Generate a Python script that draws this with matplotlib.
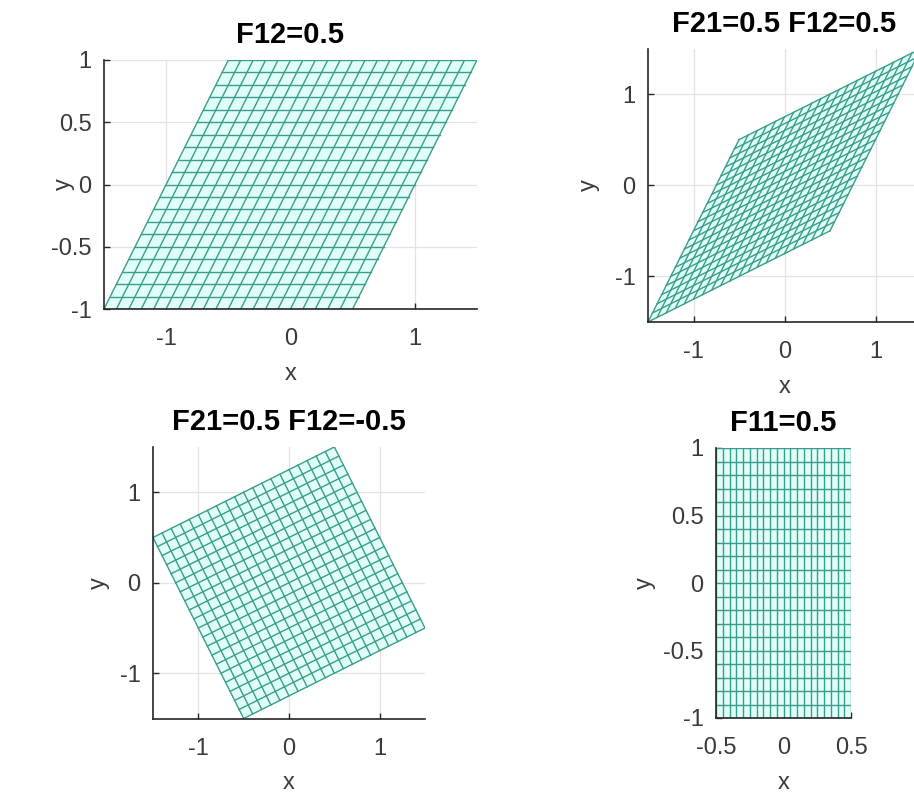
import numpy as np
import matplotlib
matplotlib.use("Agg")
import matplotlib.pyplot as plt

plt.rcParams["font.family"] = ["Liberation Sans", "DejaVu Sans"]

# deformation gradients F = [[F11, F12], [F21, F22]] for each panel
titles = ["F12=0.5", "F21=0.5 F12=0.5", "F21=0.5 F12=-0.5", "F11=0.5"]
F11 = [1.0, 1.0, 1.0, 0.5]
F12 = [0.5, 0.5, -0.5, 0.0]
F21 = [0.0, 0.5, 0.5, 0.0]
F22 = [1.0, 1.0, 1.0, 1.0]

# reference square mesh: 20 x 20 cells on [-1, 1]
n_cells = 20
u = np.linspace(-1, 1, n_cells + 1)

xlims = [(-1.5, 1.5), (-1.5, 1.5), (-1.5, 1.5), (-0.5, 0.5)]
ylims = [(-1, 1), (-1.5, 1.5), (-1.5, 1.5), (-1, 1)]
xticks = [[-1, 0, 1], [-1, 0, 1], [-1, 0, 1], [-0.5, 0, 0.5]]
yticks = [[-1, -0.5, 0, 0.5, 1], [-1, 0, 1], [-1, 0, 1], [-1, -0.5, 0, 0.5, 1]]

# axes boxes in pixels: left, bottom, width, height
W, H = 914, 796
boxes = [(104, 487, 373, 249), (648, 474, 273, 273.5),
         (153, 77.5, 272, 271.5), (716, 78, 135, 270)]
# horizontal offset (px) of the "y" label from the left axis
ylab_dx = [-29, -48, -43, -60]

EDGE = "#3a9c8a"
FACE = "#e0fff9"
AXC = "#262626"
TXT = "#3a3a3a"

fig = plt.figure(figsize=(W / 100, H / 100), dpi=100)


def fmt(v):
    return "%g" % v


for i in range(4):
    l, b, w, h = boxes[i]
    ax = fig.add_axes([l / W, b / H, w / W, h / H])

    X, Y = np.meshgrid(u, u)
    xp = F11[i] * X + F12[i] * Y
    yp = F21[i] * X + F22[i] * Y

    # filled background of the deformed square
    ox = np.concatenate([xp[0, :], xp[:, -1], xp[-1, ::-1], xp[::-1, 0]])
    oy = np.concatenate([yp[0, :], yp[:, -1], yp[-1, ::-1], yp[::-1, 0]])
    ax.fill(ox, oy, color=FACE, zorder=2, lw=0)
    ax.plot(xp, yp, color=EDGE, lw=1.0, zorder=3)
    ax.plot(xp.T, yp.T, color=EDGE, lw=1.0, zorder=3)

    ax.set_xlim(*xlims[i])
    ax.set_ylim(*ylims[i])
    ax.set_xticks(xticks[i])
    ax.set_yticks(yticks[i])
    ax.set_xticklabels([fmt(v) for v in xticks[i]])
    ax.set_yticklabels([fmt(v) for v in yticks[i]])

    ax.grid(True, color="#e3e3e3", lw=0.9)
    ax.set_axisbelow(True)
    for s in ["top", "right"]:
        ax.spines[s].set_visible(False)
    for s in ["left", "bottom"]:
        ax.spines[s].set_color(AXC)
        ax.spines[s].set_linewidth(1.2)
        ax.spines[s].set_zorder(5)
    ax.tick_params(direction="in", length=4, width=1, color=AXC,
                   labelcolor=TXT, labelsize=17)
    ax.tick_params(axis="x", pad=14)
    ax.tick_params(axis="y", pad=9)

    ax.set_xlabel("x", fontsize=17, color=TXT, labelpad=9)
    ax.set_ylabel("y", fontsize=17, color=TXT)
    ax.yaxis.set_label_coords(ylab_dx[i] / w, 0.5)
    ax.set_title(titles[i], fontsize=21, fontweight="bold", pad=12)

fig.savefig("out.png", dpi=100)
